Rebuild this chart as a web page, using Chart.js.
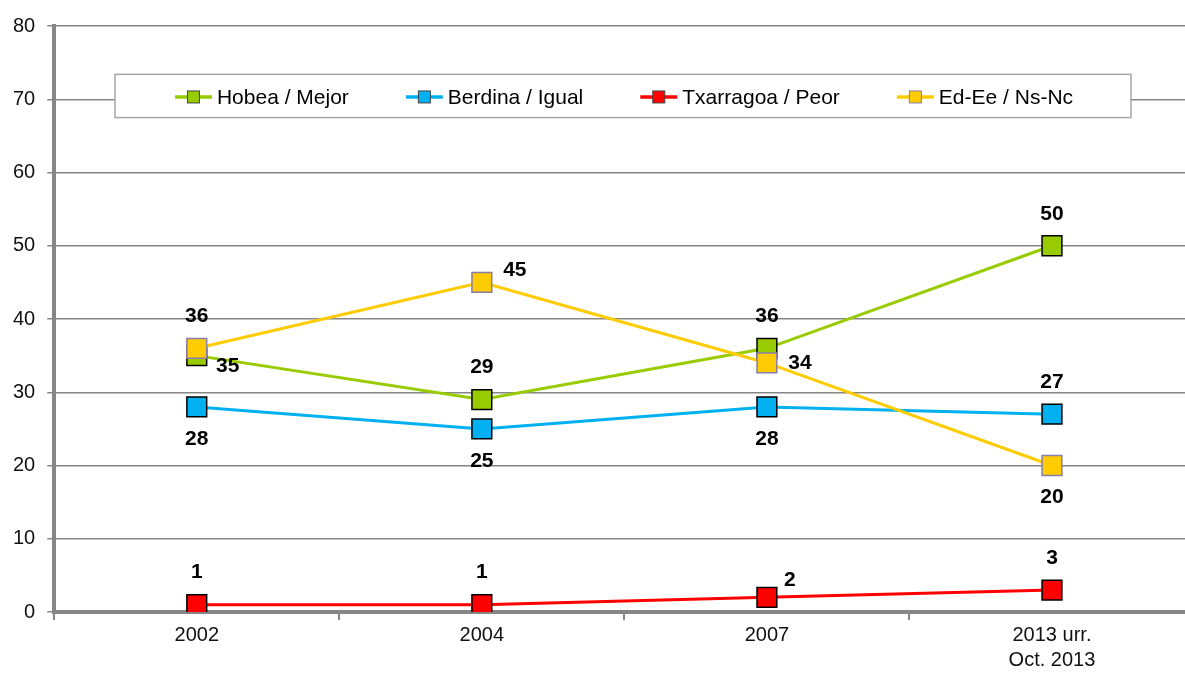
<!DOCTYPE html>
<html>
<head>
<meta charset="utf-8">
<script src="https://cdn.jsdelivr.net/npm/chart.js@4/dist/chart.umd.min.js"></script>
<style>
  html, body { margin: 0; padding: 0; background: #fff; overflow: hidden; }
  #c { display: block; }
</style>
</head>
<body>
<canvas id="c" width="1210" height="673" style="width:1210px;height:673px"></canvas>
<script>
const categories = ['2002', '2004', '2007', ['2013 urr.', 'Oct. 2013']];
const seriesNames = ['Hobea / Mejor', 'Berdina / Igual', 'Txarragoa / Peor', 'Ed-Ee / Ns-Nc'];
const hobea = [35, 29, 36, 50];
const berdina = [28, 25, 28, 27];
const txarragoa = [1, 1, 2, 3];
const edee = [36, 45, 34, 20];
const yMin = 0, yMax = 80, yStep = 10;

const colors = ['#99CC00', '#00B0F0', '#FF0000', '#FFCC00'];
const markerBorders = ['#000000', '#000000', '#000000', '#8A7CA8'];
const labelPos = [
  ['br', 't', 't', 't'],
  ['b', 'b', 'b', 't'],
  ['t', 't', 'tr', 't'],
  ['t', 'ur', 'r', 'b']
];
const FONT = '"Liberation Sans", Arial, sans-serif';

const seriesData = [hobea, berdina, txarragoa, edee];
const orders = [3, 2, 1, 0];

const datasets = seriesData.map((d, i) => ({
  label: seriesNames[i],
  data: d,
  borderColor: colors[i],
  backgroundColor: colors[i],
  borderWidth: 3,
  pointStyle: 'rect',
  pointRadius: 14,
  pointHoverRadius: 14,
  pointBackgroundColor: colors[i],
  pointBorderColor: markerBorders[i],
  pointBorderWidth: 1.5,
  tension: 0,
  order: orders[i]
}));

const labelPlugin = {
  id: 'valueLabels',
  afterDatasetsDraw(chart) {
    const ctx = chart.ctx;
    ctx.save();
    ctx.font = 'bold 21px ' + FONT;
    ctx.fillStyle = '#000';
    ctx.textAlign = 'center';
    ctx.textBaseline = 'middle';
    const off = { t: [0, -32], b: [0, 32], r: [33, 0], ur: [33, -12], br: [31, 11], tr: [23, -17] };
    chart.data.datasets.forEach((ds, i) => {
      const meta = chart.getDatasetMeta(i);
      meta.data.forEach((pt, j) => {
        const o = off[labelPos[i][j]];
        ctx.fillText(String(ds.data[j]), pt.x + o[0], pt.y + o[1]);
      });
    });
    ctx.restore();
  }
};

const legendPlugin = {
  id: 'boxLegend',
  afterDraw(chart) {
    const ctx = chart.ctx;
    const y = chart.scales.y;
    const boxTop = y.getPixelForValue(73.4);
    const boxBottom = y.getPixelForValue(67.5);
    const boxLeft = 115, boxRight = 1131;
    ctx.save();
    ctx.fillStyle = '#fff';
    ctx.fillRect(boxLeft, boxTop, boxRight - boxLeft, boxBottom - boxTop);
    ctx.strokeStyle = '#A6A6A6';
    ctx.lineWidth = 1.5;
    ctx.strokeRect(boxLeft, boxTop, boxRight - boxLeft, boxBottom - boxTop);
    ctx.font = '21px ' + FONT;
    ctx.textBaseline = 'middle';
    ctx.textAlign = 'left';
    const cy = (boxTop + boxBottom) / 2 + 1;
    const sampleW = 37, gap = 5, itemGap = 57;
    const widths = chart.data.datasets.map(ds => sampleW + gap + ctx.measureText(ds.label).width);
    const total = widths.reduce((a, b) => a + b, 0) + itemGap * (widths.length - 1);
    let x = (boxLeft + boxRight) / 2 - total / 2 + 1;
    chart.data.datasets.forEach((ds, i) => {
      ctx.strokeStyle = colors[i];
      ctx.lineWidth = 3.5;
      ctx.beginPath();
      ctx.moveTo(x, cy);
      ctx.lineTo(x + sampleW, cy);
      ctx.stroke();
      ctx.fillStyle = colors[i];
      ctx.fillRect(x + sampleW / 2 - 6, cy - 6, 12, 12);
      ctx.strokeStyle = i === 3 ? '#8A7CA8' : '#444';
      ctx.lineWidth = 1;
      ctx.strokeRect(x + sampleW / 2 - 6, cy - 6, 12, 12);
      ctx.fillStyle = '#000';
      ctx.fillText(ds.label, x + sampleW + gap, cy + 1);
      x += widths[i] + itemGap;
    });
    ctx.restore();
  }
};

new Chart(document.getElementById('c'), {
  type: 'line',
  data: { labels: categories, datasets },
  options: {
    responsive: false,
    maintainAspectRatio: false,
    animation: false,
    events: [],
    layout: { padding: { top: 26, right: 6, left: 1, bottom: -3 } },
    plugins: { legend: { display: false }, tooltip: { enabled: false } },
    scales: {
      x: {
        offset: true,
        grid: {
          offset: true,
          drawOnChartArea: false,
          drawTicks: true,
          tickLength: 8,
          color: '#868686',
          lineWidth: 2
        },
        border: { color: '#868686', width: 4 },
        ticks: {
          color: '#111',
          font: { family: FONT, size: 20, lineHeight: 1.25 },
          padding: 3,
          maxRotation: 0
        }
      },
      y: {
        min: yMin,
        max: yMax,
        ticks: {
          stepSize: yStep,
          color: '#111',
          font: { family: FONT, size: 20 },
          padding: 12
        },
        grid: {
          color: '#868686',
          lineWidth: 1.5,
          tickLength: 7,
          drawTicks: true
        },
        border: { color: '#868686', width: 4 }
      }
    }
  },
  plugins: [labelPlugin, legendPlugin]
});
</script>
</body>
</html>
